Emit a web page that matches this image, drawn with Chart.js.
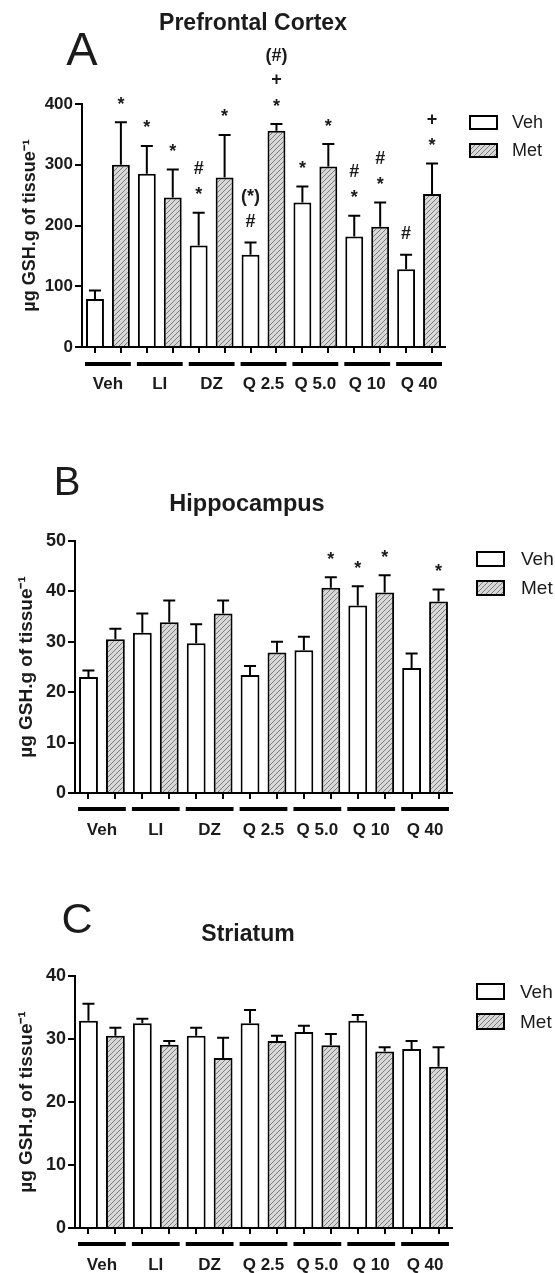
<!DOCTYPE html>
<html>
<head>
<meta charset="utf-8">
<script src="https://cdn.jsdelivr.net/npm/chart.js@4.4.0/dist/chart.umd.min.js"></script>
<style>
    html, body { margin: 0; padding: 0; background: #fff; }
    body { width: 555px; height: 1273px; position: relative; overflow: hidden; }
    .panel { position: absolute; left: 0; width: 555px; }
</style>
</head>
<body>
<div class="panel" style="top:0;height:400px"><canvas id="chartA"></canvas></div>
<div class="panel" style="top:440px;height:406px"><canvas id="chartB"></canvas></div>
<div class="panel" style="top:870px;height:403px"><canvas id="chartC"></canvas></div>
<script>
const groups = ['Veh', 'LI', 'DZ', 'Q 2.5', 'Q 5.0', 'Q 10', 'Q 40'];
const seriesNames = ['Veh', 'Met'];
const yTitle = 'µg GSH.g of tissue⁻¹';

// A - prefrontal cortex (mean, mean + SEM)
const pfcVeh = [79, 285, 167, 152, 238, 182, 128];
const pfcVehErr = [93, 331, 221, 172, 264, 216, 152];
const pfcMet = [300, 246, 279, 356, 297, 198, 252];
const pfcMetErr = [370, 292, 349, 367, 334, 238, 302];
const pfcVehMarks = [[], ['*'], ['*', '#'], ['#', '(*)'], ['*'], ['*', '#'], ['#']];
const pfcMetMarks = [['*'], ['*'], ['*'], ['*', '+', '(#)'], ['*'], ['*', '#'], ['*', '+']];
const pfcTicks = [0, 100, 200, 300, 400];

// B - hippocampus
const hipVeh = [23, 31.8, 29.7, 23.4, 28.3, 37.2, 24.8];
const hipVehErr = [24.3, 35.6, 33.5, 25.2, 31, 41, 27.7];
const hipMet = [30.5, 33.9, 35.6, 27.9, 40.7, 39.8, 38];
const hipMetErr = [32.6, 38.2, 38.2, 30, 42.8, 43.2, 40.4];
const hipVehMarks = [[], [], [], [], [], ['*'], []];
const hipMetMarks = [[], [], [], [], ['*'], ['*'], ['*']];
const hipTicks = [0, 10, 20, 30, 40, 50];

// C - striatum
const strVeh = [32.9, 32.5, 30.5, 32.5, 31.1, 32.9, 28.4];
const strVehErr = [35.6, 33.2, 31.8, 34.6, 32.1, 33.8, 29.7];
const strMet = [30.5, 29.1, 27, 29.7, 29, 28, 25.6];
const strMetErr = [31.8, 29.7, 30.2, 30.5, 30.8, 28.7, 28.7];
const strVehMarks = [[], [], [], [], [], [], []];
const strMetMarks = [[], [], [], [], [], [], []];
const strTicks = [0, 10, 20, 30, 40];

const FONT = '"Liberation Sans", Arial, sans-serif';
const INK = '#1b1b1b';
Chart.defaults.font.family = FONT;
Chart.defaults.color = INK;

function makeHatch(ctx) {
    const tile = document.createElement('canvas');
    tile.width = 5;
    tile.height = 5;
    const t = tile.getContext('2d');
    t.fillStyle = '#d8d8d8';
    t.fillRect(0, 0, 5, 5);
    t.strokeStyle = '#7c7c7c';
    t.lineWidth = 1;
    t.beginPath();
    t.moveTo(0, 5); t.lineTo(5, 0);
    t.moveTo(-1, 1); t.lineTo(1, -1);
    t.moveTo(4, 6); t.lineTo(6, 4);
    t.stroke();
    return ctx.createPattern(tile, 'repeat');
}

// whiskers (upper SEM only) and significance marks stacked above them
const errorBars = {
    id: 'errorBars',
    afterDatasetsDraw(chart, args, o) {
        const { ctx } = chart;
        const y = chart.scales.y;
        ctx.save();
        ctx.strokeStyle = '#000';
        ctx.lineWidth = 2;
        ctx.fillStyle = INK;
        ctx.textAlign = 'center';
        ctx.textBaseline = 'alphabetic';
        ctx.font = `bold ${o.markSize}px ${FONT}`;
        chart.data.datasets.forEach((ds, d) => {
            chart.getDatasetMeta(d).data.forEach((bar, i) => {
                if (ds.data[i] == null) return;
                const top = y.getPixelForValue(ds.errTop[i]);
                ctx.beginPath();
                ctx.moveTo(bar.x, bar.y);
                ctx.lineTo(bar.x, top);
                ctx.moveTo(bar.x - o.cap, top);
                ctx.lineTo(bar.x + o.cap, top);
                ctx.stroke();
                ds.marks[i].forEach((m, k) => {
                    const cy = top - o.gap - k * o.step;
                    const mt = ctx.measureText(m);
                    const shift = (mt.actualBoundingBoxAscent - mt.actualBoundingBoxDescent) / 2;
                    ctx.fillText(m, bar.x, cy + shift);
                });
            });
        });
        ctx.restore();
    }
};

// thick lines under each Veh/Met pair
const groupLines = {
    id: 'groupLines',
    afterDraw(chart, args, o) {
        const { ctx, chartArea } = chart;
        const veh = chart.getDatasetMeta(0).data;
        const met = chart.getDatasetMeta(1).data;
        ctx.save();
        ctx.strokeStyle = '#000';
        ctx.lineWidth = 4;
        groups.forEach((g, k) => {
            const a = veh[2 * k];
            const b = met[2 * k + 1];
            const yy = chartArea.bottom + o.offset;
            ctx.beginPath();
            ctx.moveTo(a.x - a.width / 2 - 1, yy);
            ctx.lineTo(b.x + b.width / 2 + 1, yy);
            ctx.stroke();
        });
        ctx.restore();
    }
};

const boxLegend = {
    id: 'boxLegend',
    afterDraw(chart, args, o) {
        const { ctx, chartArea } = chart;
        ctx.save();
        ctx.font = `${o.size}px ${FONT}`;
        ctx.textBaseline = 'middle';
        ctx.textAlign = 'left';
        chart.data.datasets.forEach((ds, d) => {
            const x = chartArea.right + o.dx;
            const top = chartArea.top + o.dy + d * o.rowStep;
            ctx.fillStyle = ds.backgroundColor;
            ctx.fillRect(x, top, o.boxW, o.boxH);
            ctx.strokeStyle = '#000';
            ctx.lineWidth = 2;
            ctx.strokeRect(x, top, o.boxW, o.boxH);
            ctx.fillStyle = INK;
            ctx.fillText(ds.label, x + o.boxW + o.textGap, top + o.boxH / 2 + 1);
        });
        ctx.restore();
    }
};

const panelText = {
    id: 'panelText',
    afterDraw(chart, args, o) {
        const { ctx } = chart;
        ctx.save();
        ctx.fillStyle = INK;
        ctx.textAlign = 'center';
        ctx.textBaseline = 'middle';
        ctx.font = `${o.letterSize}px ${FONT}`;
        ctx.fillText(o.letter, o.letterX, o.letterY);
        ctx.font = `bold ${o.titleSize}px ${FONT}`;
        ctx.fillText(o.title, o.titleX, o.titleY);
        ctx.restore();
    }
};

function buildChart(id, p) {
    const canvas = document.getElementById(id);
    const hatch = makeHatch(canvas.getContext('2d'));
    const barLabels = groups.flatMap(g => [g + ' ' + seriesNames[0], g + ' ' + seriesNames[1]]);
    const spread = (arr, slot) => groups.flatMap((g, i) => slot === 0 ? [arr[i], null] : [null, arr[i]]);

    return new Chart(canvas, {
        type: 'bar',
        data: {
            labels: barLabels,
            datasets: [
                {
                    label: seriesNames[0],
                    data: spread(p.veh, 0),
                    errTop: spread(p.vehErr, 0),
                    marks: spread(p.vehMarks, 0),
                    backgroundColor: '#ffffff',
                    borderColor: '#000',
                    borderWidth: 2
                },
                {
                    label: seriesNames[1],
                    data: spread(p.met, 1),
                    errTop: spread(p.metErr, 1),
                    marks: spread(p.metMarks, 1),
                    backgroundColor: hatch,
                    borderColor: '#000',
                    borderWidth: 2
                }
            ]
        },
        options: {
            responsive: true,
            maintainAspectRatio: false,
            animation: false,
            events: [],
            layout: { padding: { top: p.padTop, right: 555 - p.right, left: 0, bottom: 0 } },
            datasets: { bar: { grouped: false, barPercentage: p.barPct, categoryPercentage: 1 } },
            scales: {
                x: {
                    type: 'category',
                    position: 'bottom',
                    offset: true,
                    weight: 0,
                    ticks: { display: false },
                    grid: { offset: false, drawOnChartArea: false, tickLength: 6, lineWidth: 2, color: '#000' },
                    border: { display: true, color: '#000', width: 2 },
                    afterFit: s => { s.height = 8; }
                },
                groupAxis: {
                    type: 'category',
                    position: 'bottom',
                    labels: groups,
                    offset: true,
                    weight: 1,
                    grid: { display: false },
                    border: { display: false },
                    ticks: {
                        padding: p.labelPad,
                        maxRotation: 0,
                        autoSkip: false,
                        color: INK,
                        font: { size: p.labelSize, weight: 'bold' }
                    },
                    afterFit: s => { s.height = p.groupH; }
                },
                y: {
                    min: 0,
                    max: p.ticks[p.ticks.length - 1],
                    afterBuildTicks: s => { s.ticks = p.ticks.map(v => ({ value: v })); },
                    ticks: { padding: 2, color: INK, font: { size: p.tickSize, weight: 'bold' } },
                    grid: { drawOnChartArea: false, tickLength: 7, lineWidth: 2, color: '#000' },
                    border: { display: true, color: '#000', width: 2 },
                    title: {
                        display: true,
                        text: yTitle,
                        color: INK,
                        font: { size: p.yTitleSize, weight: 'bold' },
                        padding: { top: p.yTitlePad, bottom: 0 }
                    },
                    afterFit: s => { s.width = p.left; }
                }
            },
            plugins: {
                legend: { display: false },
                tooltip: { enabled: false },
                errorBars: { cap: 6, gap: 22, step: 23, markSize: 18 },
                groupLines: { offset: p.lineOffset },
                boxLegend: p.legend,
                panelText: p.text
            }
        },
        plugins: [errorBars, groupLines, boxLegend, panelText]
    });
}

buildChart('chartA', {
    veh: pfcVeh, vehErr: pfcVehErr, met: pfcMet, metErr: pfcMetErr,
    vehMarks: pfcVehMarks, metMarks: pfcMetMarks, ticks: pfcTicks,
    padTop: 104, left: 82, right: 445, groupH: 45, barPct: 0.69,
    tickSize: 17, labelSize: 17, labelPad: 11, yTitleSize: 18, yTitlePad: 19, lineOffset: 17,
    legend: { dx: 25, dy: 12, rowStep: 28, boxW: 27, boxH: 13, textGap: 15, size: 18 },
    text: { letter: 'A', letterX: 82, letterY: 52, letterSize: 47, title: 'Prefrontal Cortex', titleX: 253, titleY: 24, titleSize: 23 }
});

buildChart('chartB', {
    veh: hipVeh, vehErr: hipVehErr, met: hipMet, metErr: hipMetErr,
    vehMarks: hipVehMarks, metMarks: hipMetMarks, ticks: hipTicks,
    padTop: 101, left: 75, right: 452, groupH: 45, barPct: 0.7,
    tickSize: 18, labelSize: 17, labelPad: 11, yTitleSize: 19, yTitlePad: 15, lineOffset: 16,
    legend: { dx: 25, dy: 11, rowStep: 29, boxW: 27, boxH: 14, textGap: 17, size: 19 },
    text: { letter: 'B', letterX: 67, letterY: 44, letterSize: 40, title: 'Hippocampus', titleX: 247, titleY: 65, titleSize: 23.5 }
});

buildChart('chartC', {
    veh: strVeh, vehErr: strVehErr, met: strMet, metErr: strMetErr,
    vehMarks: strVehMarks, metMarks: strMetMarks, ticks: strTicks,
    padTop: 106, left: 75, right: 452, groupH: 37, barPct: 0.7,
    tickSize: 18, labelSize: 17, labelPad: 11, yTitleSize: 19, yTitlePad: 15, lineOffset: 16,
    legend: { dx: 25, dy: 8, rowStep: 30, boxW: 27, boxH: 15, textGap: 16, size: 19 },
    text: { letter: 'C', letterX: 77, letterY: 51, letterSize: 43, title: 'Striatum', titleX: 248, titleY: 65, titleSize: 23 }
});
</script>
</body>
</html>
